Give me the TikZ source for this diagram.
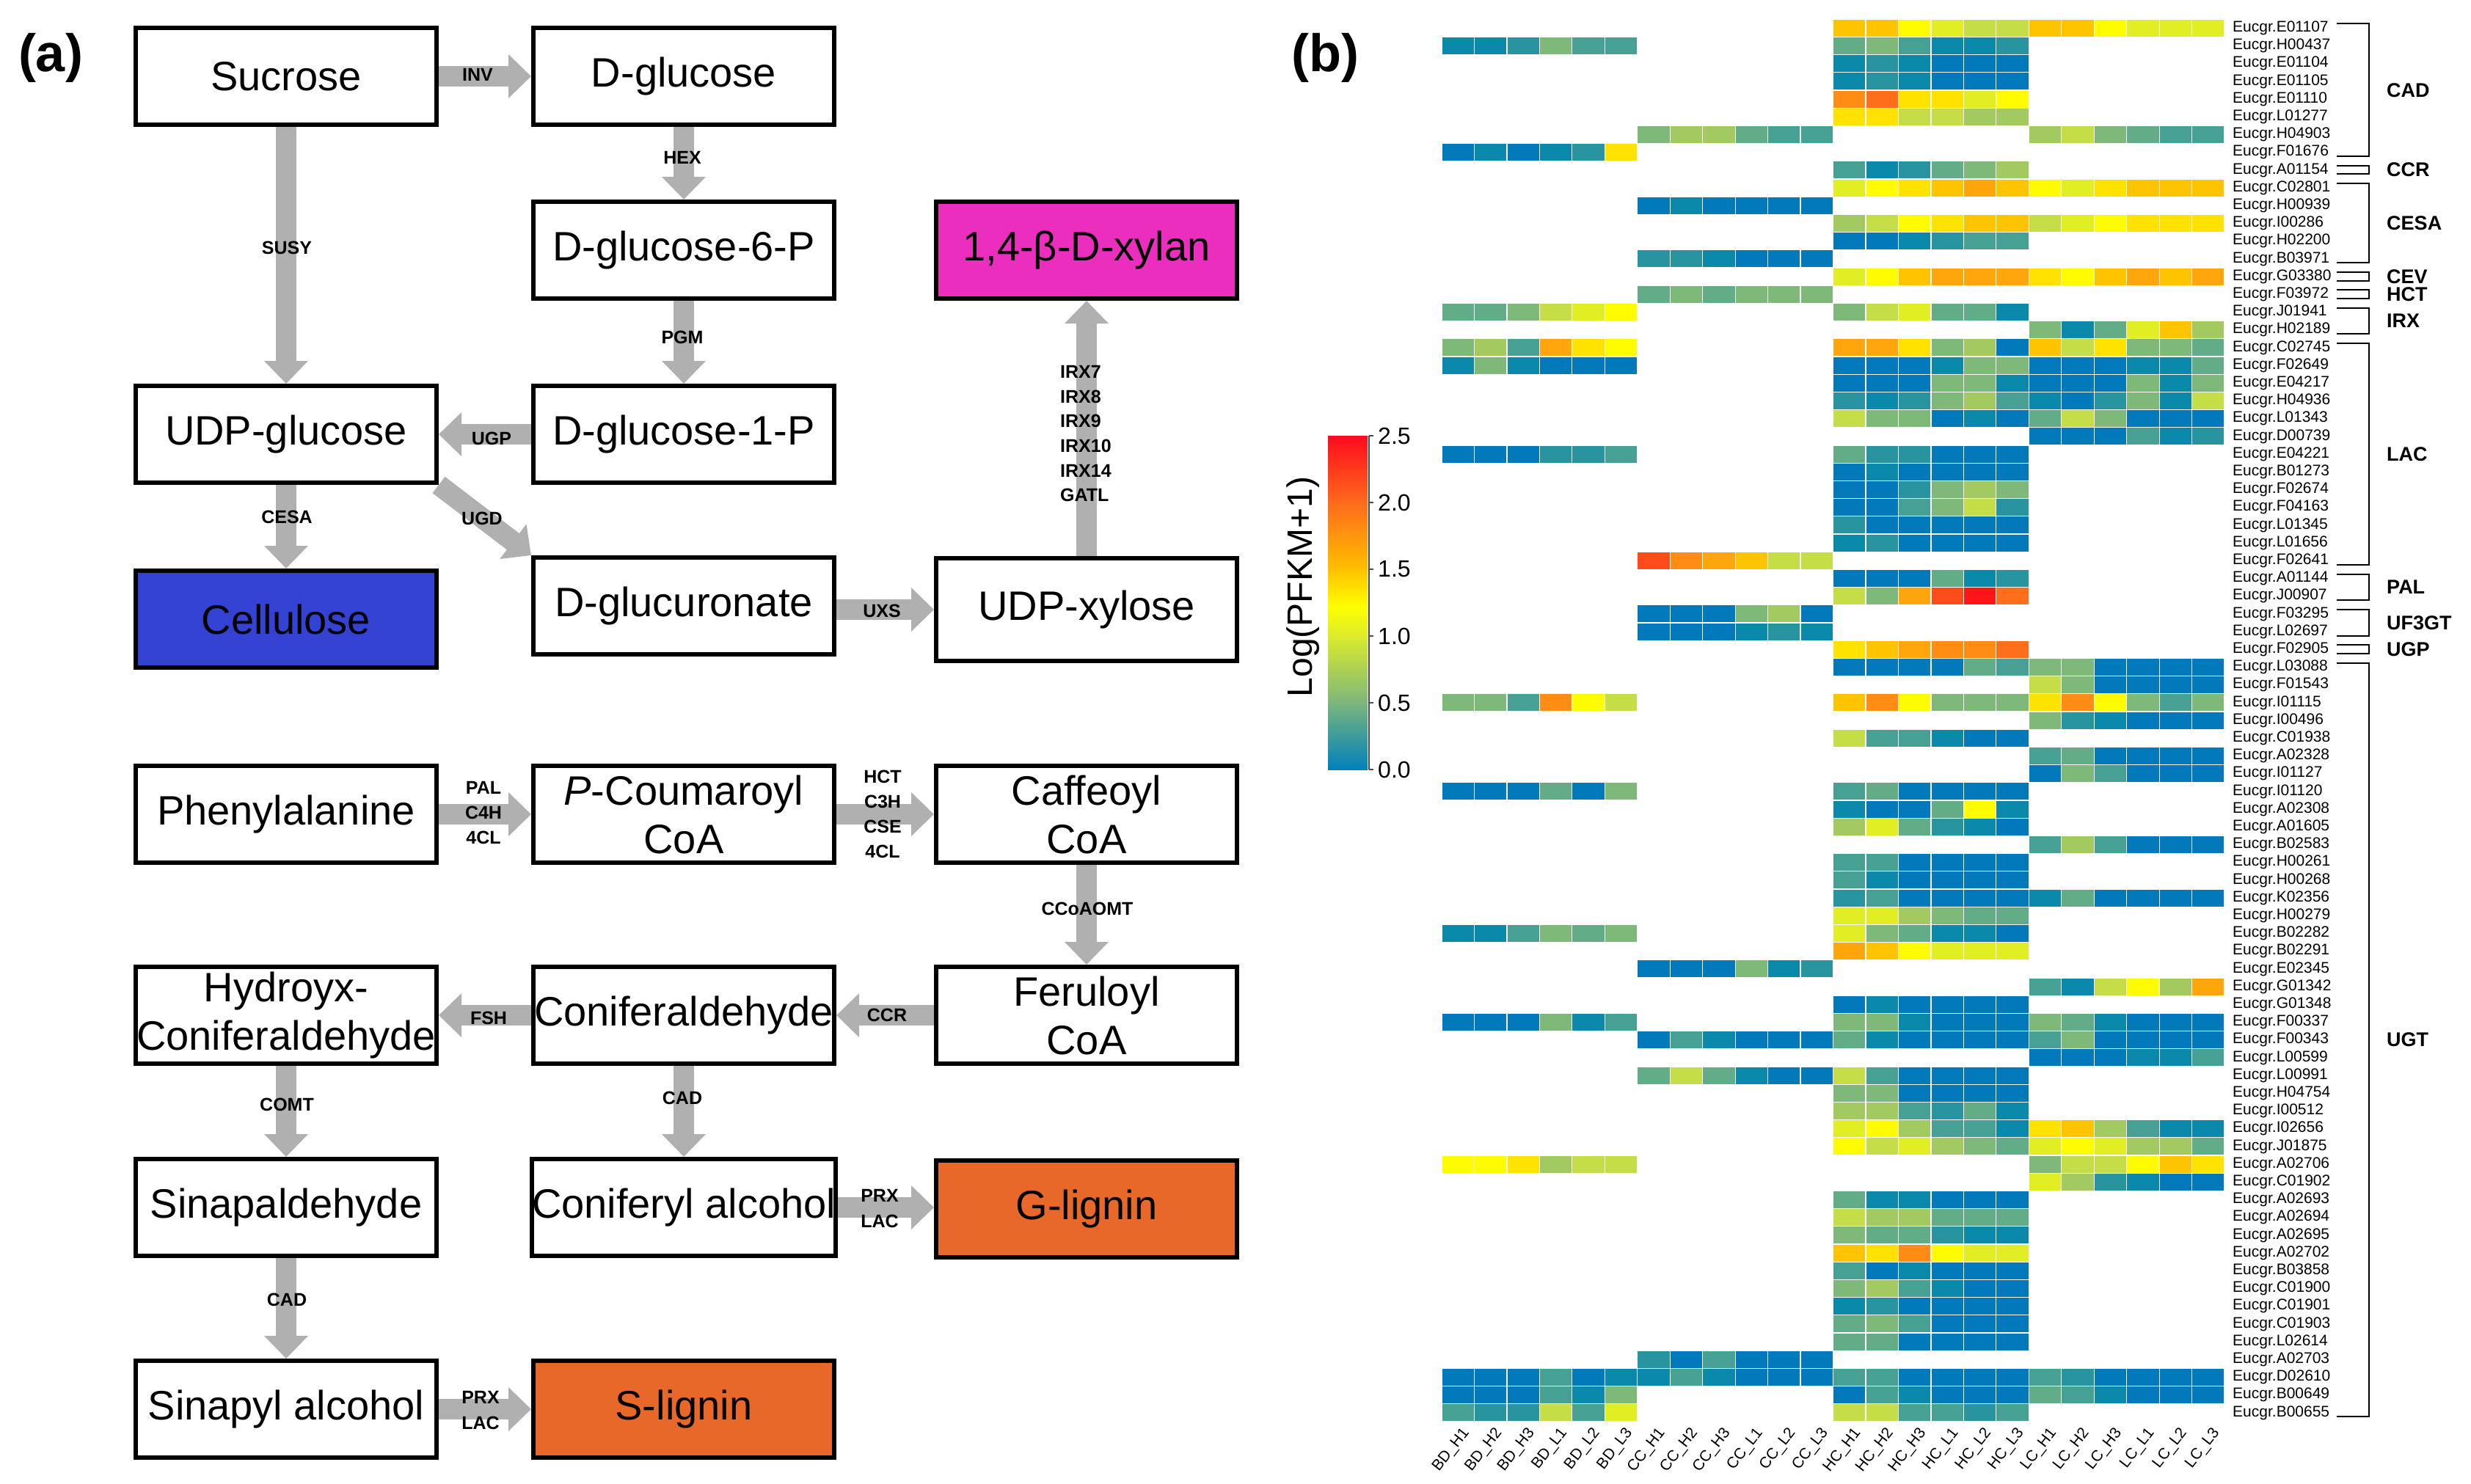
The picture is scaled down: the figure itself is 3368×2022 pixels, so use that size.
\documentclass[tikz,border=0pt]{standalone}
\usepackage{fontspec}
\setmainfont{Liberation Sans}
\usetikzlibrary{arrows.meta,calc}
\definecolor{arrowgray}{HTML}{B0B0B0}
\definecolor{celblue}{HTML}{3342D2}
\definecolor{xylmag}{HTML}{EC2EBE}
\definecolor{ligor}{HTML}{E8682A}
\definecolor{h0}{HTML}{0279BA}
\definecolor{h1}{HTML}{0A89AA}
\definecolor{h2}{HTML}{2894A0}
\definecolor{h3}{HTML}{47A094}
\definecolor{h4}{HTML}{62AC88}
\definecolor{h5}{HTML}{7FB97A}
\definecolor{h6}{HTML}{A2CA60}
\definecolor{h7}{HTML}{C5DE48}
\definecolor{h8}{HTML}{E2EE24}
\definecolor{h9}{HTML}{FFFB00}
\definecolor{hA}{HTML}{FFE200}
\definecolor{hB}{HTML}{FFC400}
\definecolor{hC}{HTML}{FFA60C}
\definecolor{hD}{HTML}{FF8C14}
\definecolor{hE}{HTML}{FF6E1A}
\definecolor{hF}{HTML}{FF4A1C}
\definecolor{hG}{HTML}{FF1418}
\definecolor{cbA}{HTML}{0081BB}
\definecolor{cbB}{HTML}{7DB67C}
\definecolor{cbC}{HTML}{DDEB2A}
\definecolor{cbD}{HTML}{FFFF00}
\definecolor{cbE}{HTML}{FFC000}
\definecolor{cbF}{HTML}{FF6A1C}
\definecolor{cbG}{HTML}{FF0A1E}
\newcount\hmcol
\newcommand\hmrow[2]{\hmcol=0 \def\hmy{#1}\hmparse#2\relax}
\def\hmparse#1{\ifx\relax#1\else\hmcell#1\advance\hmcol by 1 \expandafter\hmparse\fi}
\def\hmcell#1{\if-#1\else\fill[h#1,draw=white,line width=1.2pt] ({1965+44.46*\the\hmcol},{26.2+24.2*(\hmy-1)}) rectangle ++(44.46,24.2);\fi}
\begin{document}
\begin{tikzpicture}[x=1pt,y=-1pt,
  box/.style={draw, line width=6pt, minimum width=410pt, minimum height=132pt, inner sep=0pt, align=center, font=\fontsize{56}{66}\selectfont},
  arr/.style={draw=arrowgray, line width=28pt, -{Triangle[width=58pt,length=31pt]}},
  al/.style={font=\bfseries\fontsize{25}{28}\selectfont, inner sep=0pt},
  gl/.style={anchor=west, font=\fontsize{21}{24}\selectfont, inner sep=0pt},
  grp/.style={anchor=west, font=\bfseries\fontsize{27}{30}\selectfont, inner sep=0pt},
  cl/.style={anchor=east, rotate=52, font=\fontsize{21}{23}\selectfont, inner sep=0pt},
  plab/.style={font=\bfseries\fontsize{72}{80}\selectfont, inner sep=0pt}]
\fill[white] (0,0) rectangle (3368,2022);
\useasboundingbox (0,0) rectangle (3368,2022);

% ---------- panel (a) ----------
\node[plab] (pa) at (69,79) {(a)};
\node[box] (sucrose) at (390,104) {Sucrose};
\node[box] (dglc) at (932,104) {D-glucose};
\node[box] (g6p) at (932,341) {D-glucose-6-P};
\node[box, fill=xylmag] (xylan) at (1481,341) {1,4-β-D-xylan};
\node[box] (udpglc) at (390,592) {UDP-glucose};
\node[box] (g1p) at (932,592) {D-glucose-1-P};
\node[box, fill=celblue] (cellulose) at (390,844) {Cellulose};
\node[box] (glcA) at (932,826) {D-glucuronate};
\node[box, minimum height=140pt] (udpxyl) at (1481,831) {UDP-xylose};
\node[box] (phe) at (390,1110) {Phenylalanine};
\node[box] (pcou) at (932,1110) {\textit{P}-Coumaroyl\\CoA};
\node[box] (caf) at (1481,1110) {Caffeoyl\\CoA};
\node[box] (hyd) at (390,1384) {Hydroyx-\\Coniferaldehyde};
\node[box] (conald) at (932,1384) {Coniferaldehyde};
\node[box] (fer) at (1481,1384) {Feruloyl\\CoA};
\node[box] (sinald) at (390,1646) {Sinapaldehyde};
\node[box] (conalc) at (932,1646) {Coniferyl alcohol};
\node[box, fill=ligor] (glig) at (1481,1648) {G-lignin};
\node[box] (sinalc) at (390,1921) {Sinapyl alcohol};
\node[box, fill=ligor] (slig) at (932,1921) {S-lignin};

\draw[arr] (sucrose.east) -- (dglc.west);
\draw[arr] (dglc.south) -- (g6p.north);
\draw[arr] (g6p.south) -- (g1p.north);
\draw[arr] (sucrose.south) -- (udpglc.north);
\draw[arr] (g1p.west) -- (udpglc.east);
\draw[arr] (udpglc.south) -- (cellulose.north);
\draw[arr] (udpglc.south east) -- (glcA.north west);
\draw[arr] (glcA.east |- udpxyl.west) -- (udpxyl.west);
\draw[arr] (udpxyl.north) -- (xylan.south);
\draw[arr] (phe.east) -- (pcou.west);
\draw[arr] (pcou.east) -- (caf.west);
\draw[arr] (caf.south) -- (fer.north);
\draw[arr] (fer.west) -- (conald.east);
\draw[arr] (conald.west) -- (hyd.east);
\draw[arr] (hyd.south) -- (sinald.north);
\draw[arr] (conald.south) -- (conalc.north);
\draw[arr] (conalc.east) -- (conalc.east -| glig.west);
\draw[arr] (sinald.south) -- (sinalc.north);
\draw[arr] (sinalc.east) -- (slig.west);

\node[al] (lINV) at (651,102) {INV};
\node[al] (lHEX) at (930,215) {HEX};
\node[al] (lPGM) at (930,460) {PGM};
\node[al] (lSUSY) at (391,338) {SUSY};
\node[al] (lUGP) at (670,598) {UGP};
\node[al] (lCESA) at (391,705) {CESA};
\node[al] (lUGD) at (657,707) {UGD};
\node[al] (lUXS) at (1202,833) {UXS};
\foreach \t [count=\k] in {IRX7,IRX8,IRX9,IRX10,IRX14,GATL}
  \node[al, anchor=west] (lirx\k) at (1445,{473.4+33.6*\k}) {\t};
\node[al] (lPAL) at (659,1074) {PAL};
\node[al] (lC4H) at (659,1108) {C4H};
\node[al] (l4CLa) at (659,1142) {4CL};
\node[al] (lHCT) at (1203,1059) {HCT};
\node[al] (lC3H) at (1203,1093) {C3H};
\node[al] (lCSE) at (1203,1127) {CSE};
\node[al] (l4CLb) at (1203,1161) {4CL};
\node[al] (lCCoAOMT) at (1482,1239) {CCoAOMT};
\node[al] (lCCR) at (1209,1384) {CCR};
\node[al] (lFSH) at (666,1388) {FSH};
\node[al] (lCOMT) at (391,1506) {COMT};
\node[al] (lCADa) at (930,1497) {CAD};
\node[al] (lPRXa) at (1199,1630) {PRX};
\node[al] (lLACa) at (1199,1665) {LAC};
\node[al] (lCADb) at (391,1772) {CAD};
\node[al] (lPRXb) at (655,1905) {PRX};
\node[al] (lLACb) at (655,1940) {LAC};

% ---------- panel (b) ----------
\node[plab] (pb) at (1806,79) {(b)};

% colour bar
\shade[bottom color=cbA, top color=cbB] (1810,957) rectangle (1864,1049);
\shade[bottom color=cbB, top color=cbC] (1810,866) rectangle (1864,958);
\shade[bottom color=cbC, top color=cbD] (1810,826) rectangle (1864,867);
\shade[bottom color=cbD, top color=cbE] (1810,775) rectangle (1864,827);
\shade[bottom color=cbE, top color=cbF] (1810,684) rectangle (1864,776);
\shade[bottom color=cbF, top color=cbG] (1810,594) rectangle (1864,685);
\draw[line width=1.5pt, black!70] (1866,594) -- (1866,1049);
\foreach \v/\t [count=\k] in {0/0.0,0.5/0.5,1/1.0,1.5/1.5,2/2.0,2.5/2.5}{
  \draw[line width=1.5pt, black!70] (1866,{1049-182*\v}) -- ++(6,0);
  \node[anchor=west, inner sep=0pt, font=\fontsize{32}{36}\selectfont] (tick\k) at (1878,{1049-182*\v}) {\t};
}
\node[rotate=90, inner sep=0pt, font=\fontsize{48}{52}\selectfont] (cblab) at (1776,800) {Log(PFKM+1)};

% heat map cells
\hmrow{1}{------ ------ BB9877 BB9888}
\hmrow{2}{112533 ------ 453112 ------}
\hmrow{3}{------ ------ 121000 ------}
\hmrow{4}{------ ------ 121000 ------}
\hmrow{5}{------ ------ DEAA89 ------}
\hmrow{6}{------ ------ AA7766 ------}
\hmrow{7}{------ 566433 ------ 675433}
\hmrow{8}{01012A ------ ------ ------}
\hmrow{9}{------ ------ 312456 ------}
\hmrow{10}{------ ------ 89ABCB 98ABBB}
\hmrow{11}{------ 010000 ------ ------}
\hmrow{12}{------ ------ 679ABB 789AAA}
\hmrow{13}{------ ------ 001233 ------}
\hmrow{14}{------ 221000 ------ ------}
\hmrow{15}{------ ------ 89BCCC A9BCBC}
\hmrow{16}{------ 454555 ------ ------}
\hmrow{17}{445789 ------ 578441 ------}
\hmrow{18}{------ ------ ------ 5148B6}
\hmrow{19}{563CA9 ------ CCA560 B7A554}
\hmrow{20}{151000 ------ 000155 000114}
\hmrow{21}{------ ------ 000551 000515}
\hmrow{22}{------ ------ 212563 102517}
\hmrow{23}{------ ------ 755010 475000}
\hmrow{24}{------ ------ ------ 000312}
\hmrow{25}{000223 ------ 422000 ------}
\hmrow{26}{------ ------ 010000 ------}
\hmrow{27}{------ ------ 002565 ------}
\hmrow{28}{------ ------ 003572 ------}
\hmrow{29}{------ ------ 200000 ------}
\hmrow{30}{------ ------ 120000 ------}
\hmrow{31}{------ FDCB77 ------ ------}
\hmrow{32}{------ ------ 000412 ------}
\hmrow{33}{------ ------ 75CFGE ------}
\hmrow{34}{------ 000560 ------ ------}
\hmrow{35}{------ 000121 ------ ------}
\hmrow{36}{------ ------ ABCDDE ------}
\hmrow{37}{------ ------ 000043 550000}
\hmrow{38}{------ ------ ------ 750000}
\hmrow{39}{553D97 ------ BD9555 AD9535}
\hmrow{40}{------ ------ ------ 521000}
\hmrow{41}{------ ------ 733100 ------}
\hmrow{42}{------ ------ ------ 340000}
\hmrow{43}{------ ------ ------ 053000}
\hmrow{44}{000405 ------ 340000 ------}
\hmrow{45}{------ ------ 100491 ------}
\hmrow{46}{------ ------ 684210 ------}
\hmrow{47}{------ ------ ------ 363000}
\hmrow{48}{------ ------ 330000 ------}
\hmrow{49}{------ ------ 310000 ------}
\hmrow{50}{------ ------ 230000 140000}
\hmrow{51}{------ ------ 886544 ------}
\hmrow{52}{113545 ------ 854110 ------}
\hmrow{53}{------ ------ CB9888 ------}
\hmrow{54}{------ 000512 ------ ------}
\hmrow{55}{------ ------ ------ 31796C}
\hmrow{56}{------ ------ 010000 ------}
\hmrow{57}{000513 ------ 551000 541000}
\hmrow{58}{------ 031000 410000 350000}
\hmrow{59}{------ ------ ------ 000113}
\hmrow{60}{------ 474100 730000 ------}
\hmrow{61}{------ ------ 550000 ------}
\hmrow{62}{------ ------ 663241 ------}
\hmrow{63}{------ ------ 896331 AB6311}
\hmrow{64}{------ ------ 978654 898664}
\hmrow{65}{99A677 ------ ------ 5779BA}
\hmrow{66}{------ ------ ------ 862100}
\hmrow{67}{------ ------ 411000 ------}
\hmrow{68}{------ ------ 766444 ------}
\hmrow{69}{------ ------ 544211 ------}
\hmrow{70}{------ ------ BAD988 ------}
\hmrow{71}{------ ------ 301000 ------}
\hmrow{72}{------ ------ 563100 ------}
\hmrow{73}{------ ------ 120000 ------}
\hmrow{74}{------ ------ 453000 ------}
\hmrow{75}{------ ------ 440000 ------}
\hmrow{76}{------ 203000 ------ ------}
\hmrow{77}{000301 131000 330000 320000}
\hmrow{78}{000315 ------ 031000 431000}
\hmrow{79}{322738 ------ 773323 ------}

% gene labels
\foreach \g [count=\i] in {E01107,H00437,E01104,E01105,E01110,L01277,H04903,F01676,A01154,C02801,H00939,I00286,H02200,B03971,G03380,F03972,J01941,H02189,C02745,F02649,E04217,H04936,L01343,D00739,E04221,B01273,F02674,F04163,L01345,L01656,F02641,A01144,J00907,F03295,L02697,F02905,L03088,F01543,I01115,I00496,C01938,A02328,I01127,I01120,A02308,A01605,B02583,H00261,H00268,K02356,H00279,B02282,B02291,E02345,G01342,G01348,F00337,F00343,L00599,L00991,H04754,I00512,I02656,J01875,A02706,C01902,A02693,A02694,A02695,A02702,B03858,C01900,C01901,C01903,L02614,A02703,D02610,B00649,B00655}
  \node[gl] (gene\i) at (3043,{38.3+24.2*(\i-1)}) {Eucgr.\g};

% group brackets
\foreach \a/\b/\lab [count=\k] in {1/8/CAD,9/9/CCR,10/14/CESA,15/15/CEV,16/16/HCT,17/18/IRX,19/31/LAC,32/33/PAL,34/35/UF3GT,36/36/UGP,37/79/UGT}{
  \draw[line width=2pt] (3185,{32.3+24.2*(\a-1)}) -- (3229,{32.3+24.2*(\a-1)}) -- (3229,{43.8+24.2*(\b-1)}) -- (3185,{43.8+24.2*(\b-1)});
  \node[grp] (grp\k) at (3253,{(76.1+24.2*(\a+\b-2))/2}) {\lab};
}

% column labels
\foreach \grpn [count=\gi from 0] in {BD,CC,HC,LC}
  \foreach \s [count=\si from 0] in {H1,H2,H3,L1,L2,L3}
    \node[cl] (col\gi\si) at ({1965+44.46*(6*\gi+\si)+34},1950) {\grpn\_\s};
\end{tikzpicture}
\end{document}
